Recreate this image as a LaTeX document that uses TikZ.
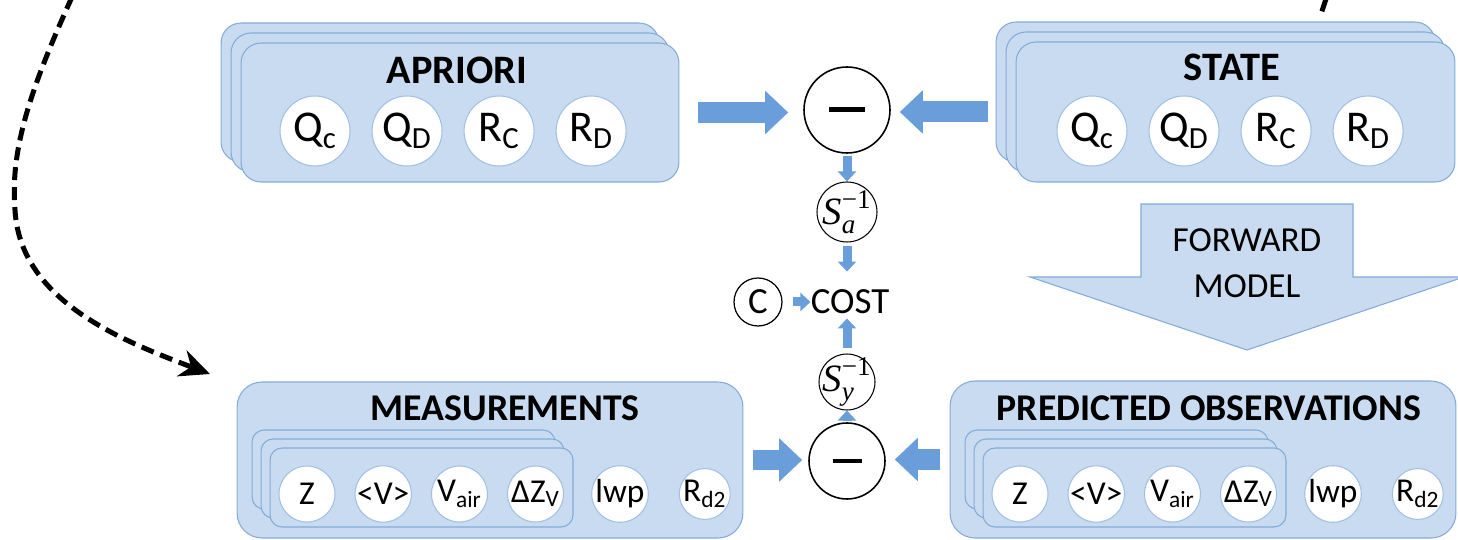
\documentclass[tikz,border=0pt]{standalone}
\usepackage{amsmath}
\usepackage{graphicx}
\usepackage{fontspec}
\setmainfont{Carlito}
\newfontfamily\tmsfont{Liberation Serif}
\usetikzlibrary{arrows.meta, positioning, shadows}

\definecolor{boxfill}{HTML}{C9DBF0}
\definecolor{boxline}{HTML}{85AAD8}
\definecolor{circline}{HTML}{A3C0E3}
\definecolor{arrowblue}{HTML}{6A9EDA}
\newcommand{\fsz}[1]{\fontsize{#1}{#1}\selectfont}

\begin{document}
\begin{tikzpicture}[x=0.02cm, y=-0.02cm,
  every node/.style={font=\fsz{16}},
  stackbox/.style={draw=boxline, fill=boxfill, line width=0.6pt, rounded corners=0.4cm,
    copy shadow={shadow xshift=-0.4cm, shadow yshift=0.4cm, draw=boxline, fill=boxfill},
    copy shadow={shadow xshift=-0.2cm, shadow yshift=0.2cm, draw=boxline, fill=boxfill}},
  smallstack/.style={draw=boxline, fill=boxfill, line width=0.6pt, rounded corners=0.24cm,
    copy shadow={shadow xshift=-0.36cm, shadow yshift=0.36cm, draw=boxline, fill=boxfill},
    copy shadow={shadow xshift=-0.18cm, shadow yshift=0.18cm, draw=boxline, fill=boxfill}},
  bigbox/.style={draw=boxline, fill=boxfill, line width=0.6pt, rounded corners=0.5cm},
  par/.style={circle, draw=circline, fill=white, line width=0.6pt, inner sep=0pt,
    minimum size=1.4cm, font=\fsz{25}},
  obs/.style={par, minimum size=1.12cm, font=\fsz{19}},
  obss/.style={obs, minimum size=1.0cm},
  op/.style={circle, draw=black, fill=white, line width=0.9pt, inner sep=0pt},
  sinv/.style={op, line width=0.6pt, minimum size=1.2cm, inner sep=-0.3cm, font=\fsz{22}},
  title/.style={font=\bfseries\fsz{23}},
  subtitle/.style={font=\bfseries\fsz{21.5}},
  fatarrow/.style={draw=arrowblue, line width=0.42cm, -{Triangle[length=0.46cm, width=0.84cm]}},
  smallarrow/.style={draw=arrowblue, line width=0.18cm, -{Triangle[length=0.2cm, width=0.36cm]}},
  dashcurve/.style={line width=0.1cm, dash pattern=on 0.26cm off 0.14cm}]
  \useasboundingbox (0,0) rectangle (1458,540);
  \clip (0,0) rectangle (1458,540);
  % dashed feedback curve
  \coordinate (dashA) at (72,-3);
  \coordinate (dashB) at (210,374);
  \draw[dashcurve, -{Stealth[length=0.6cm, width=0.55cm]}] (dashA)
    .. controls (30,90) and (10,150) .. (15,210)
    .. controls (20,300) and (120,340) .. (dashB);
  \coordinate (dashC) at (1326,-1);
  \coordinate (dashD) at (1321,14);
  \draw[dashcurve] (dashC) -- (dashD);
  % a priori stack
  \node[stackbox, minimum width=8.76cm, minimum height=2.78cm] (apriori) at (460,112.5) {};
  \node[title] (aprioriT) at (457,70) {APRIORI};
  \node[par] (qca) at (315,131) {Q\textsubscript{c}};
  \node[par, right=0.42cm of qca] (qda) {Q\textsubscript{D}};
  \node[par, right=0.42cm of qda] (rca) {R\textsubscript{C}};
  \node[par, right=0.42cm of rca] (rda) {R\textsubscript{D}};
  % state stack
  \node[stackbox, minimum width=8.78cm, minimum height=2.8cm] (state) at (1235.5,112) {};
  \node[title] (stateT) at (1232,67) {STATE};
  \node[par] (qcs) at (1092,131) {Q\textsubscript{c}};
  \node[par, right=0.42cm of qcs] (qds) {Q\textsubscript{D}};
  \node[par, right=0.42cm of qds] (rcs) {R\textsubscript{C}};
  \node[par, right=0.42cm of rcs] (rds) {R\textsubscript{D}};
  % forward model block arrow
  \draw[draw=boxline, fill=boxfill, line width=0.6pt] (1141,204) -- (1353,204) -- (1353,277)
    -- (1464,277) -- (1247,350) -- (1030,277) -- (1141,277) -- cycle;
  \node[align=center, font=\fontsize{20}{26}\selectfont] (fwd) at (1247,263) {FORWARD\\MODEL};
  % measurements
  \node[bigbox, minimum width=10.12cm, minimum height=3.12cm] (meas) at (490,460) {};
  \node[subtitle] (measT) at (505,408) {MEASUREMENTS};
  \node[smallstack, minimum width=6.06cm, minimum height=1.58cm] (measin) at (421.5,487.5) {};
  \node[obs] (zm) at (307,494) {Z};
  \node[obs, right=0.38cm of zm] (vm) {<V>};
  \node[obs, right=0.38cm of vm] (vairm) {V\textsubscript{air}};
  \node[obs, right=0.38cm of vairm] (dzm) {ΔZ\textsubscript{V}};
  \node[obss] (lwpm) at (620,494) {lwp};
  \node[obss, right=0.6cm of lwpm] (rdm) {R\textsubscript{d2}};
  % predicted observations
  \node[bigbox, minimum width=10.12cm, minimum height=3.14cm] (pred) at (1203,459.5) {};
  \node[subtitle] (predT) at (1209,408) {PREDICTED OBSERVATIONS};
  \node[smallstack, minimum width=6.06cm, minimum height=1.58cm] (predin) at (1134.5,487.5) {};
  \node[obs] (zp) at (1020,494) {Z};
  \node[obs, right=0.38cm of zp] (vp) {<V>};
  \node[obs, right=0.38cm of vp] (vairp) {V\textsubscript{air}};
  \node[obs, right=0.38cm of vairp] (dzp) {ΔZ\textsubscript{V}};
  \node[obss] (lwpp) at (1333,494) {lwp};
  \node[obss, right=0.6cm of lwpp] (rdp) {R\textsubscript{d2}};
  % cost column
  \node[op, minimum size=1.72cm] (minusA) at (847,110) {\rule{0.72cm}{0.1cm}};
  \node[sinv] (sa) at (847,212)
    {$\text{\tmsfont\itshape S}^{\text{\tmsfont −1}}_{\text{\tmsfont\itshape a}}$};
  \node[font=\fsz{21}, inner sep=0pt] (cost) at (850,302) {COST};
  \node[op, line width=0.7pt, minimum size=0.96cm, font=\fsz{21}] (cc) at (758,302) {C};
  \node[sinv, minimum size=1.12cm] (sy) at (847,382)
    {$\text{\tmsfont\itshape S}^{\text{\tmsfont −1}}_{\text{\tmsfont\itshape y}}$};
  \node[op, minimum size=1.52cm] (minusB) at (847,461) {\rule{0.58cm}{0.09cm}};
  % blue arrows
  \draw[fatarrow, shorten <=0.38cm, shorten >=0.3cm] (apriori.east) -- (apriori.east -| minusA.west);
  \draw[fatarrow, shorten <=0.56cm, shorten >=0.18cm] (state.west) -- (state.west -| minusA.east);
  \draw[fatarrow, shorten <=0.2cm, shorten >=0.12cm] (meas.east) -- (meas.east -| minusB.west);
  \draw[fatarrow, shorten <=0.2cm, shorten >=0.18cm] (pred.west) -- (pred.west -| minusB.east);
  \draw[smallarrow, shorten <=0.04cm] (minusA.south) -- (sa.north);
  \draw[smallarrow, shorten <=0.06cm, shorten >=0.36cm] (sa.south) -- (sa.south |- cost.north);
  \draw[smallarrow, shorten <=0.2cm] (cc.east) -- (cost.west);
  \draw[smallarrow, shorten <=0.1cm, shorten >=0.08cm] (sy.north) -- (sy.north |- cost.south);
  \draw[smallarrow, shorten <=0.04cm] (minusB.north) -- (sy.south);
\end{tikzpicture}
\end{document}
